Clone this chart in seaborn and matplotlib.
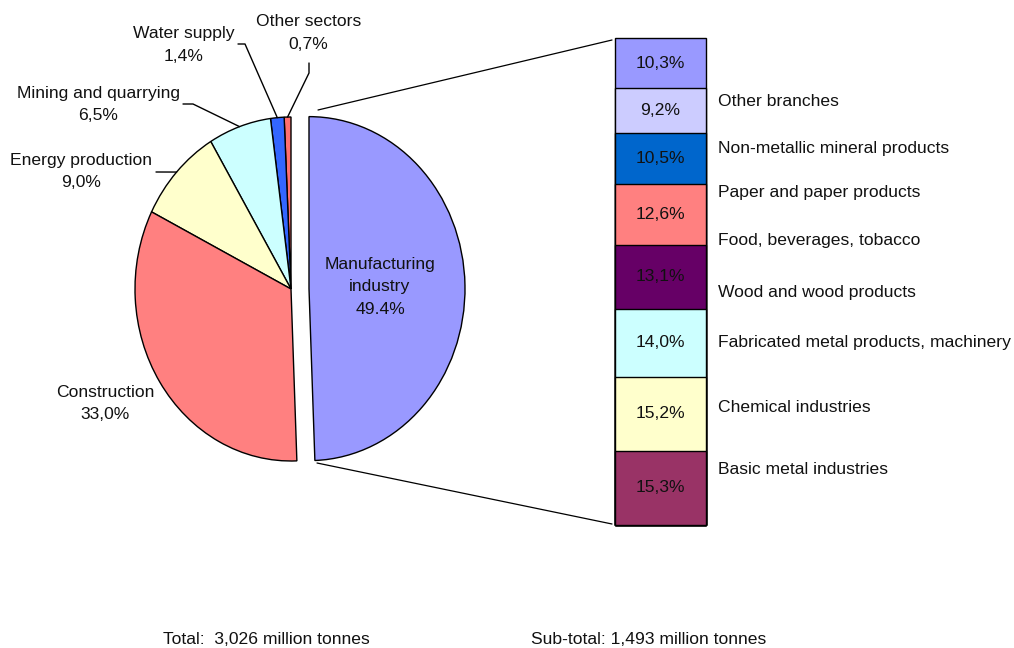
import matplotlib
matplotlib.use("Agg")
import matplotlib.pyplot as plt
import numpy as np
import seaborn as sns

# Sector shares of total waste generation (counter-clockwise from the top)
sectors = ["Other sectors", "Water supply", "Mining and quarrying",
           "Energy production", "Construction", "Manufacturing\nindustry"]
sector_share = [0.7, 1.4, 6.5, 9.0, 33.0, 49.4]
sector_decimal = [",", ",", ",", ",", ",", "."]
sector_colors = ["#FF6F6F", "#3366FF", "#CCFFFF", "#FFFFCC", "#FF8080", "#9999FF"]

# Manufacturing branches, listed from the top of the column downwards
branch_share = [10.3, 9.2, 10.5, 12.6, 13.1, 14.0, 15.2, 15.3]
branch_colors = ["#9999FF", "#CCCCFF", "#0066CC", "#FF8080",
                 "#660066", "#CCFFFF", "#FFFFCC", "#993366"]
branch_names = ["Other branches", "Non-metallic mineral products",
                "Paper and paper products", "Food, beverages, tobacco",
                "Wood and wood products", "Fabricated metal products, machinery",
                "Chemical industries", "Basic metal industries"]

total_text = "Total:  3,026 million tonnes"
subtotal_text = "Sub-total: 1,493 million tonnes"

# ---- layout (pixels) ----
W, H = 1014, 648
CX, CY, RX, RY = 291, 289, 156, 172      # pie centre and radii
EXPLODE_PX = 18
BAR_L, BAR_R, BAR_T, BAR_B = 615, 706, 38, 525
sector_label_xy = [(308.5, 33), (184, 45), (98.5, 104.5), (81.5, 171.5),
                   (105, 403.5), (380, 287)]
leader_start = {0: [(309, 63), (309, 73)], 1: [(238, 44), (245, 44)],
                2: [(183, 104), (193, 104)], 3: [(156, 172)]}
branch_label_y = [101, 148, 193, 240, 292, 342, 407, 469]
FS = 12.6
LS = 1.6

sns.set_theme(style="white")
plt.rcParams["font.family"] = ["Liberation Sans", "DejaVu Sans"]

fig = plt.figure(figsize=(W / 100, H / 100), dpi=100)
fig.patch.set_facecolor("white")

def fig_box(left, top, width, height):
    return [left / W, 1 - (top + height) / H, width / W, height / H]

# ---- pie (slightly elliptical) ----
lim = 1.3
pax = fig.add_axes(fig_box(CX - lim * RX, CY - lim * RY, 2 * lim * RX, 2 * lim * RY))
explode = [0, 0, 0, 0, 0, EXPLODE_PX / RX]
pax.pie(sector_share, colors=sector_colors, startangle=90, counterclock=True,
        explode=explode, wedgeprops=dict(edgecolor="black", linewidth=1.0))
pax.set_aspect("auto")
pax.set_xlim(-lim, lim)
pax.set_ylim(-lim, lim)
pax.axis("off")

# ---- stacked column of manufacturing branches ----
bax = fig.add_axes(fig_box(BAR_L, BAR_T, BAR_R - BAR_L, BAR_B - BAR_T))
bottom_up = branch_share[::-1]
colors_up = branch_colors[::-1]
tops = np.cumsum(bottom_up)
for top, col in sorted(zip(tops, colors_up), key=lambda t: -t[0]):
    sns.barplot(x=["m"], y=[top], color=col, saturation=1, width=1,
                edgecolor="black", linewidth=1.0, ax=bax)
bax.set_xlim(-0.5, 0.5)
bax.set_ylim(0, tops[-1])
bax.axis("off")
for p in bax.patches:
    p.set_clip_on(False)
for top, v in zip(tops, bottom_up):
    bax.text(0, top - v / 2, f"{v:.1f}".replace(".", ",") + "%",
             ha="center", va="center", fontsize=FS, color="#111111")

# ---- overlay for labels and connector lines ----
oax = fig.add_axes([0, 0, 1, 1], zorder=5)
oax.set_xlim(0, W)
oax.set_ylim(H, 0)
oax.axis("off")

cum = np.concatenate([[0], np.cumsum(sector_share)])
for i, (name, v, dec) in enumerate(zip(sectors, sector_share, sector_decimal)):
    x, y = sector_label_xy[i]
    pct = f"{v:.1f}".replace(".", dec) + "%"
    oax.text(x, y, f"{name}\n{pct}", ha="center", va="center",
             fontsize=FS, color="#111111", linespacing=LS)
    if i in leader_start:
        mid = np.deg2rad(90 + 3.6 * (cum[i] + v / 2))
        ex, ey = CX + RX * np.cos(mid), CY - RY * np.sin(mid)
        pts = leader_start[i] + [(ex, ey)]
        oax.plot([p[0] for p in pts], [p[1] for p in pts], color="black", lw=1.0)

# connectors from the exploded wedge to the column
oax.plot([318, BAR_L - 3], [110, BAR_T + 2], color="black", lw=0.9)
oax.plot([317, BAR_L - 3], [463, BAR_B - 1], color="black", lw=0.9)

for name, y in zip(branch_names, branch_label_y):
    oax.text(718, y, name, ha="left", va="center", fontsize=FS, color="#111111")

oax.text(163, 640, total_text, ha="left", va="center", fontsize=FS, color="#111111")
oax.text(531, 640, subtotal_text, ha="left", va="center", fontsize=FS, color="#111111")

fig.savefig("out.png", dpi=100, facecolor="white")
